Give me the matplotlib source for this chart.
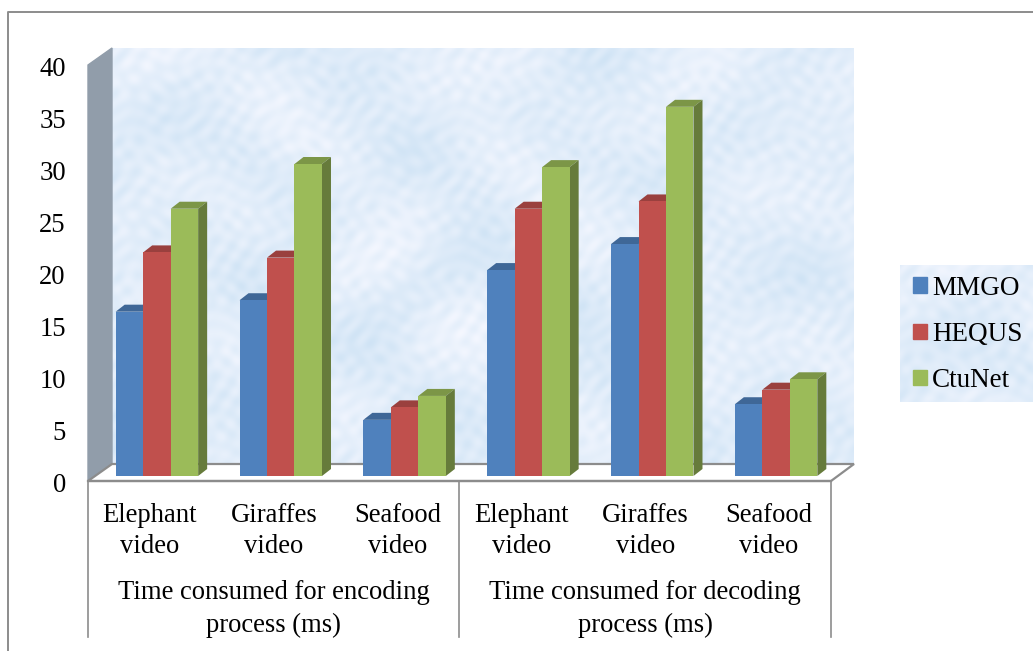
import numpy as np
import matplotlib
matplotlib.use("Agg")
import matplotlib.pyplot as plt
from matplotlib.patches import Polygon, Rectangle
from matplotlib.transforms import Affine2D

WIDTH, HEIGHT = 1033, 651

videos = ["Elephant\nvideo", "Giraffes\nvideo", "Seafood\nvideo"] * 2
processes = ["Time consumed for encoding\nprocess (ms)", "Time consumed for decoding\nprocess (ms)"]
series_names = ["MMGO", "HEQUS", "CtuNet"]
mmgo = [15.8, 16.9, 5.4, 19.8, 22.3, 6.9]
hequs = [21.5, 21.0, 6.6, 25.7, 26.4, 8.3]
ctunet = [25.7, 30.0, 7.7, 29.7, 35.5, 9.3]
y_ticks = [0, 5, 10, 15, 20, 25, 30, 35, 40]

front_colors = ["#4f81bd", "#c0504d", "#9bbb59"]
top_colors = ["#3f6797", "#9a403e", "#7c9647"]
side_colors = ["#3b6190", "#8f3c3a", "#667b3b"]
FS = 19.2

plt.rcParams["font.family"] = "Liberation Serif"


def px_rect(x0, y0, x1, y1):
    # pixel box (top left origin) to figure fractions
    return [x0 / WIDTH, 1 - y1 / HEIGHT, (x1 - x0) / WIDTH, (y1 - y0) / HEIGHT]


def texture(h, w):
    # pale blue marbled look for the wall and the legend
    yy, xx = np.mgrid[0:h, 0:w]
    coarse = (np.sin(xx / 29 + 2 * np.sin(yy / 37)) + np.sin(yy / 23 + 2 * np.sin(xx / 47))
              + np.sin((xx - yy) / 41))
    fine = (np.sin(xx / 3.1 + 3 * np.sin(yy / 11)) + np.sin(yy / 2.7 + 3 * np.sin(xx / 13))
            + np.sin((xx + yy) / 4.3 + 2 * np.sin(xx / 19)))
    wave = 0.6 * coarse / 3 + 0.4 * fine / 3
    low = np.array([0.81, 0.89, 0.96])
    high = np.array([0.96, 0.97, 1.0])
    t = (wave[..., None] + 1) / 2
    return low + (high - low) * t


fig = plt.figure(figsize=(WIDTH / 100, HEIGHT / 100), dpi=100)

# background layer in pixel coordinates
bg = fig.add_axes([0, 0, 1, 1])
bg.axis("off")

bg.plot([8, 8, WIDTH], [HEIGHT, 12, 12], color="#8c8c8c", lw=1.4)

bg.imshow(texture(416, 742), extent=(112, 854, 464, 48), aspect="auto", zorder=1)
bg.add_patch(Polygon([(88, 65), (112, 48), (112, 464), (88, 481)], color="#919daa", zorder=2))
bg.add_patch(Polygon([(88, 481), (112, 464), (854, 464), (831, 481)], facecolor="white",
                     edgecolor="#8c8c8c", lw=1.6, zorder=2))
bg.imshow(texture(137, 133), extent=(900, 1033, 402, 265), aspect="auto", zorder=1)
bg.set_xlim(0, WIDTH)
bg.set_ylim(HEIGHT, 0)

# chart axes sit on the front plane of the 3D box
ax = fig.add_axes(px_rect(88, 65, 831, 481))
ax.patch.set_alpha(0)
ax.set_xlim(0, 6)
ax.set_ylim(0, 40)
for s in ax.spines.values():
    s.set_visible(False)
ax.spines["bottom"].set_visible(True)
ax.spines["bottom"].set_color("#8c8c8c")
ax.spines["bottom"].set_linewidth(1.6)

ax.set_yticks(y_ticks)
ax.tick_params(axis="y", length=0, labelsize=FS, pad=16)
for lab in ax.get_yticklabels():
    lab.set_y(lab.get_position()[1])
    lab.set_transform(lab.get_transform() + Affine2D().translate(0, -1.5))
ax.set_xticks([])

# bars are pushed back into the box by a few pixels
shift = Affine2D().translate(7, 5)
bar_w = 0.222
depth_x, depth_y = 9 / 123.83, 7 / 10.4
x = np.arange(6) + 0.5
for i, vals in enumerate([mmgo, hequs, ctunet]):
    pos = x + (i - 1) * bar_w
    ax.bar(pos, vals, bar_w, color=front_colors[i], transform=ax.transData + shift, zorder=3 + i * 2)
    for p, v in zip(pos, vals):
        l, r = p - bar_w / 2, p + bar_w / 2
        top = [(l, v), (r, v), (r + depth_x, v + depth_y), (l + depth_x, v + depth_y)]
        side = [(r, 0), (r + depth_x, depth_y), (r + depth_x, v + depth_y), (r, v)]
        ax.add_patch(Polygon(top, color=top_colors[i], transform=ax.transData + shift, zorder=2 + i * 2, lw=0))
        ax.add_patch(Polygon(side, color=side_colors[i], transform=ax.transData + shift, zorder=2 + i * 2, lw=0))

# two level category axis
for xv in [0, 3, 6]:
    bg.plot([88 + xv * 123.83] * 2, [481, 637], color="#8c8c8c", lw=1.2, zorder=2)
for xv, label in zip(x, videos):
    ax.annotate(label, (xv, 0), xytext=(0, -15.5), textcoords="offset points", ha="center", va="top",
                fontsize=FS, linespacing=1.35, annotation_clip=False)
for xv, label in zip([1.5, 4.5], processes):
    ax.annotate(label, (xv, 0), xytext=(0, -71.5), textcoords="offset points", ha="center", va="top",
                fontsize=FS, linespacing=1.37, annotation_clip=False)

# legend
handles = [Rectangle((0, 0), 1, 1, color=c) for c in front_colors]
fig.legend(handles, series_names, loc="center left", bbox_to_anchor=(913 / WIDTH, 1 - 334.5 / HEIGHT),
           frameon=False, fontsize=19.5, handlelength=0.52, handleheight=0.52, handletextpad=0.18,
           labelspacing=0.78, borderpad=0, borderaxespad=0)

fig.savefig("out.png", dpi=100)
